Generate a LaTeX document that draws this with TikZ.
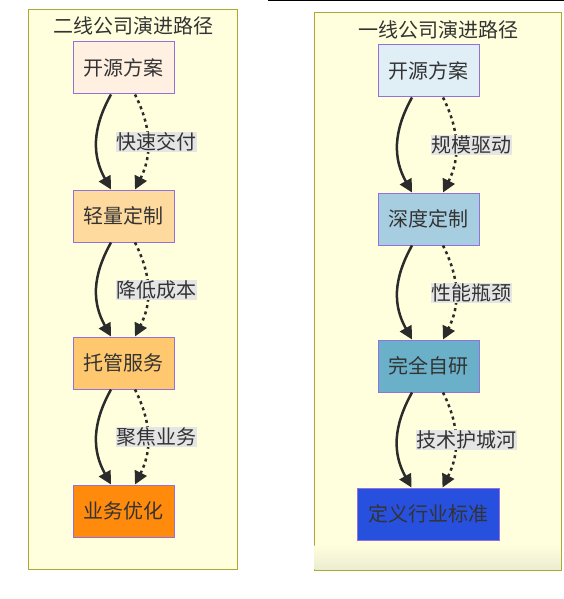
\documentclass[tikz,border=0pt]{standalone}
\usepackage{fontspec}
\setmainfont{Noto Sans CJK SC}
\usetikzlibrary{arrows.meta,calc}
\definecolor{clfill}{HTML}{FFFFDE}
\definecolor{clborder}{HTML}{AAAA33}
\definecolor{bxborder}{HTML}{9370DB}
\definecolor{txtc}{HTML}{333333}
\definecolor{arrc}{HTML}{2B2B2B}
\definecolor{lblbg}{HTML}{E5E5E5}
\definecolor{la}{HTML}{FFF0E2}
\definecolor{lb}{HTML}{FFDA9E}
\definecolor{lc}{HTML}{FFC86E}
\definecolor{ld}{HTML}{FF8A0C}
\definecolor{ra}{HTML}{E0EEF6}
\definecolor{rb}{HTML}{A6CEE0}
\definecolor{rc}{HTML}{6AB0C8}
\definecolor{rd}{HTML}{2650DD}
\begin{document}
\begin{tikzpicture}[x=1pt,y=-1pt,
  cluster/.style={draw=clborder, fill=clfill, line width=1pt},
  cltitle/.style={text=txtc, font=\fontsize{20}{24}\selectfont, inner sep=0pt},
  box/.style={draw=bxborder, line width=1pt, minimum height=52pt, inner sep=0pt, text=txtc, font=\fontsize{20}{24}\selectfont},
  edgelbl/.style={fill=lblbg, inner xsep=0.5pt, inner ysep=0pt, minimum height=20pt, text=txtc, font=\fontsize{20}{24}\selectfont},
  solidarrow/.style={line width=2.5pt, draw=arrc, -{Triangle[length=13pt,width=13pt]}},
  dotarrow/.style={solidarrow, dash pattern=on 3pt off 3.5pt}
]
\useasboundingbox (0,0) rectangle (564,599);
\draw[line width=1.5pt] (268,0.75) -- (564,0.75);

% left cluster
\draw[cluster] (28,10) rectangle (237,569);
\node[cltitle] (lt) at (133,26) {二线公司演进路径};
\node[box, fill=la, minimum width=101pt] (l1) at (123.5,68) {开源方案};
\node[box, fill=lb, minimum width=101pt] (l2) at (123.5,216) {轻量定制};
\node[box, fill=lc, minimum width=101pt] (l3) at (123.5,363) {托管服务};
\node[box, fill=ld, minimum width=101pt] (l4) at (123.5,511) {业务优化};

\foreach \a/\b in {l1/l2,l2/l3,l3/l4}{
  \draw[solidarrow] ([xshift=-12.5pt]\a.south) .. controls +(-19,34) and +(-19,-34) .. ([xshift=-12.5pt]\b.north);
  \draw[dotarrow] ([xshift=11.5pt]\a.south) .. controls +(17,34) and +(17,-34) .. ([xshift=11.5pt]\b.north);
}
\node[edgelbl] (e1) at ($($(l1.south)!0.5!(l2.north)$)+(33,0)$) {快速交付};
\node[edgelbl] (e2) at ($($(l2.south)!0.5!(l3.north)$)+(33,0)$) {降低成本};
\node[edgelbl] (e3) at ($($(l3.south)!0.5!(l4.north)$)+(33,0)$) {聚焦业务};

% right cluster
\draw[cluster] (314,13) rectangle (561,570);
\shade[top color=clfill, bottom color=clfill!85!gray] (314.5,545) rectangle (560.5,569.5);
\node[cltitle] (rt) at (438,30) {一线公司演进路径};
\node[box, fill=ra, minimum width=101pt] (r1) at (428.5,71) {开源方案};
\node[box, fill=rb, minimum width=101pt] (r2) at (428.5,219) {深度定制};
\node[box, fill=rc, minimum width=101pt] (r3) at (428.5,366) {完全自研};
\node[box, fill=rd, minimum width=142pt] (r4) at (428,514) {定义行业标准};

\foreach \a/\b in {r1/r2,r2/r3,r3/r4}{
  \draw[solidarrow] ([xshift=-16.5pt]\a.south) .. controls +(-19,34) and +(-19,-34) .. ([xshift=-16.5pt]\b.north);
  \draw[dotarrow] ([xshift=14.5pt]\a.south) .. controls +(17,34) and +(17,-34) .. ([xshift=14.5pt]\b.north);
}
\node[edgelbl] (f1) at ($($(r1.south)!0.5!(r2.north)$)+(42.5,0)$) {规模驱动};
\node[edgelbl] (f2) at ($($(r2.south)!0.5!(r3.north)$)+(42.5,0)$) {性能瓶颈};
\node[edgelbl] (f3) at ($($(r3.south)!0.5!(r4.north)$)+(38.5,0)$) {技术护城河};
\end{tikzpicture}
\end{document}
